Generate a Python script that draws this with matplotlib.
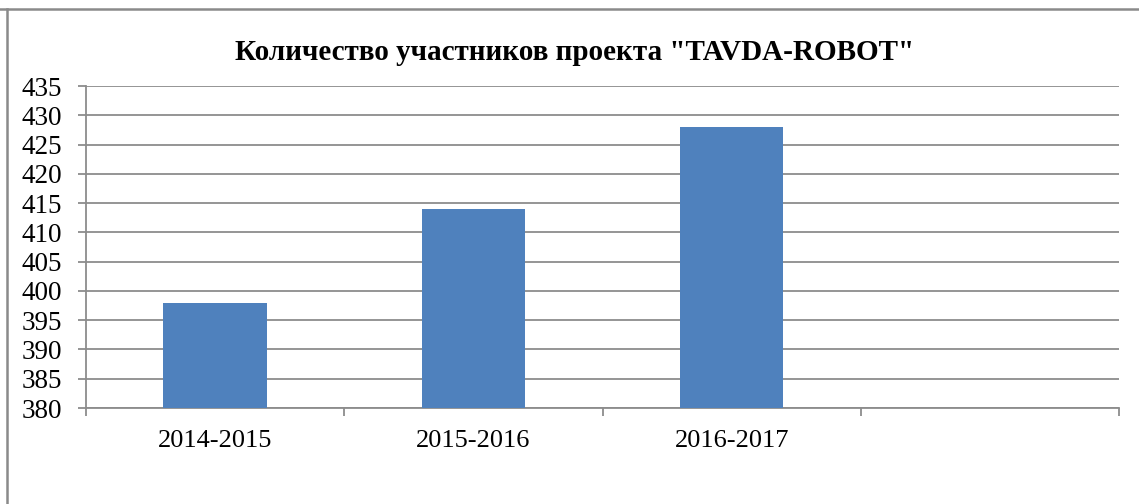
import matplotlib
matplotlib.use("Agg")
import matplotlib.pyplot as plt
from matplotlib.lines import Line2D
import numpy as np

categories = ["2014-2015", "2015-2016", "2016-2017", ""]
values = [398, 414, 428, None]
yticks = [380, 385, 390, 395, 400, 405, 410, 415, 420, 425, 430, 435]
title = 'Количество участников проекта "TAVDA-ROBOT"'

W, H = 1139, 504
fig = plt.figure(figsize=(W / 100, H / 100), dpi=100)
plt.rcParams['font.family'] = ['Liberation Serif', 'DejaVu Serif']

ax = fig.add_axes([86 / W, 1 - 408 / H, (1119 - 86) / W, (408 - 86) / H])
grid_c = "#8c8c8c"
x = np.arange(len(categories))
bar_x = [i for i, v in zip(x, values) if v is not None]
bar_v = [v for v in values if v is not None]
ax.bar(bar_x, [v - 380 for v in bar_v], bottom=380, width=0.4, color="#4F81BD", zorder=3)

ax.set_xlim(-0.5, len(categories) - 0.5)
ax.set_ylim(380, 435)
ax.set_yticks(yticks)
ax.set_yticklabels([str(t) for t in yticks], fontsize=19.5)
ax.yaxis.grid(True, color=grid_c, linewidth=1.3, zorder=0)
ax.set_axisbelow(True)

ax.set_xticks(np.arange(len(categories) + 1) - 0.5)
ax.set_xticklabels([])
ax.set_xticks(x, minor=True)
ax.set_xticklabels(categories, minor=True, fontsize=19)
ax.tick_params(axis='x', which='minor', length=0, pad=16)
ax.tick_params(axis='x', which='major', length=6, color=grid_c, width=1.3, direction='out')
ax.tick_params(axis='y', length=6, color=grid_c, width=1.3, direction='out', pad=11)

for s in ["top", "right"]:
    ax.spines[s].set_visible(False)
for s in ["left", "bottom"]:
    ax.spines[s].set_color(grid_c)
    ax.spines[s].set_linewidth(1.3)

fig.text(575 / W, 1 - 52 / H, title, ha="center", va="center", fontsize=21, fontweight="bold")

# outer frame (top and left edges visible)
fig.add_artist(Line2D([0, 1], [1 - 9 / H, 1 - 9 / H], transform=fig.transFigure, color="#8a8a8a", linewidth=1.8))
fig.add_artist(Line2D([7 / W, 7 / W], [0, 1 - 9 / H], transform=fig.transFigure, color="#8a8a8a", linewidth=1.8))

fig.savefig("out.png", dpi=100)
